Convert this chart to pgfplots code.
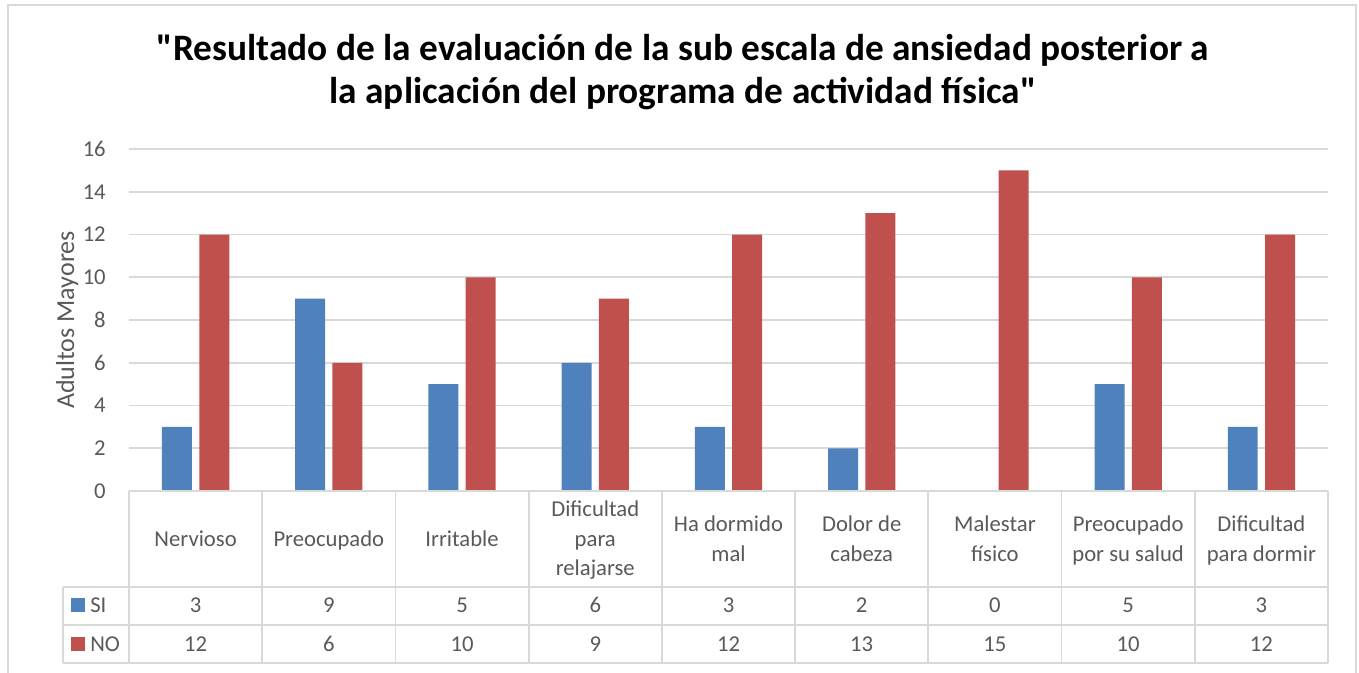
\documentclass[border=0pt]{standalone}
\usepackage{pgfplots}
\pgfplotsset{compat=1.18}
\usepackage{fontspec}
\setmainfont{Carlito}
\newfontfamily\titlefont{Carlito}
\definecolor{cblue}{HTML}{4F81BD}
\definecolor{cred}{HTML}{C0504D}
\definecolor{gridc}{HTML}{D9D9D9}
\definecolor{txt}{HTML}{595959}
\newcommand\bodyfont{\fontsize{17}{22}\selectfont}
\begin{document}
\begin{tikzpicture}
\def\u{0.75pt}
\useasboundingbox (0,0) rectangle (1359*\u,-672*\u);
\begin{axis}[
  at={(129*\u,-491*\u)}, anchor=south west,
  scale only axis, width=1199*\u, height=342*\u,
  xmin=-0.5, xmax=8.5, ymin=0, ymax=16,
  ytick={0,2,...,16}, xtick=\empty,
  ymajorgrids, grid style={gridc, line width=1.4pt},
  axis line style={draw=none},
  major tick length=0pt,
  /pgf/number format/assume math mode=true,
  yticklabel style={font=\bodyfont, text=txt, anchor=east, inner sep=0pt, xshift=-17.25pt},
  clip=false,
]
\addplot[ybar, bar width=0.225, bar shift=-0.14, fill=cblue, draw=none]
  coordinates {(0,3)(1,9)(2,5)(3,6)(4,3)(5,2)(6,0)(7,5)(8,3)};
\addplot[ybar, bar width=0.225, bar shift=0.14, fill=cred, draw=none]
  coordinates {(0,12)(1,6)(2,10)(3,9)(4,12)(5,13)(6,15)(7,10)(8,12)};
\end{axis}
\begin{scope}[x=0.75pt, y=-0.75pt]
  % outer frame
  \draw[gridc, line width=1.5pt] (8,5) rectangle (1356,690);
  % title
  \node[anchor=base, font=\titlefont\fontsize{28}{33}\selectfont\bfseries, text=black, inner sep=0pt] at (683,60)
    {"Resultado de la evaluación de la sub escala de ansiedad posterior a};
  \node[anchor=base, font=\titlefont\fontsize{28}{33}\selectfont\bfseries, text=black, inner sep=0pt] at (683,103)
    {la aplicación del programa de actividad física"};
  % y label
  \node[anchor=base, rotate=90, font=\fontsize{19.5}{24}\selectfont, text=txt, inner sep=0pt] at (74,320) {Adultos Mayores};
  % table lines
  \begin{scope}[gridc, line width=1.4pt]
    \draw (129,491) -- (1328,491);
    \draw (63,587) -- (1328,587);
    \draw (63,625) -- (1328,625);
    \draw (63,663) -- (1328,663);
    \draw (63,587) -- (63,663);
    \foreach \k in {0,...,9} { \draw ({129+\k*133.22},491) -- ({129+\k*133.22},663); }
  \end{scope}
  % legend keys
  \fill[cblue] (71,598) rectangle (85,612);
  \fill[cred] (71,637) rectangle (85,651);
  \node[anchor=base west, font=\bodyfont, text=txt, inner sep=0pt] at (90,612.7) {SI};
  \node[anchor=base west, font=\bodyfont, text=txt, inner sep=0pt] at (90,651) {NO};
  % category labels
  \tikzset{cl/.style={anchor=base, font=\bodyfont, text=txt, inner sep=0pt}}
  \node[cl] at ({129+0.5*133.22},546) {Nervioso};
  \node[cl] at ({129+1.5*133.22},546) {Preocupado};
  \node[cl] at ({129+2.5*133.22},546) {Irritable};
  \node[cl] at ({129+3.5*133.22},516.7) {Dificultad};
  \node[cl] at ({129+3.5*133.22},546) {para};
  \node[cl] at ({129+3.5*133.22},575.3) {relajarse};
  \node[cl] at ({129+4.5*133.22},531.7) {Ha dormido};
  \node[cl] at ({129+4.5*133.22},561) {mal};
  \node[cl] at ({129+5.5*133.22},531.7) {Dolor de};
  \node[cl] at ({129+5.5*133.22},561) {cabeza};
  \node[cl] at ({129+6.5*133.22},531.7) {Malestar};
  \node[cl] at ({129+6.5*133.22},561) {físico};
  \node[cl] at ({129+7.5*133.22},531.7) {Preocupado};
  \node[cl] at ({129+7.5*133.22},561) {por su salud};
  \node[cl] at ({129+8.5*133.22},531.7) {Dificultad};
  \node[cl] at ({129+8.5*133.22},561) {para dormir};
  % table values
  \foreach \v [count=\i from 0] in {3,9,5,6,3,2,0,5,3} {
    \node[cl] at ({129+(\i+0.5)*133.22},612.7) {\v};
  }
  \foreach \v [count=\i from 0] in {12,6,10,9,12,13,15,10,12} {
    \node[cl] at ({129+(\i+0.5)*133.22},651) {\v};
  }
\end{scope}
\end{tikzpicture}
\end{document}
